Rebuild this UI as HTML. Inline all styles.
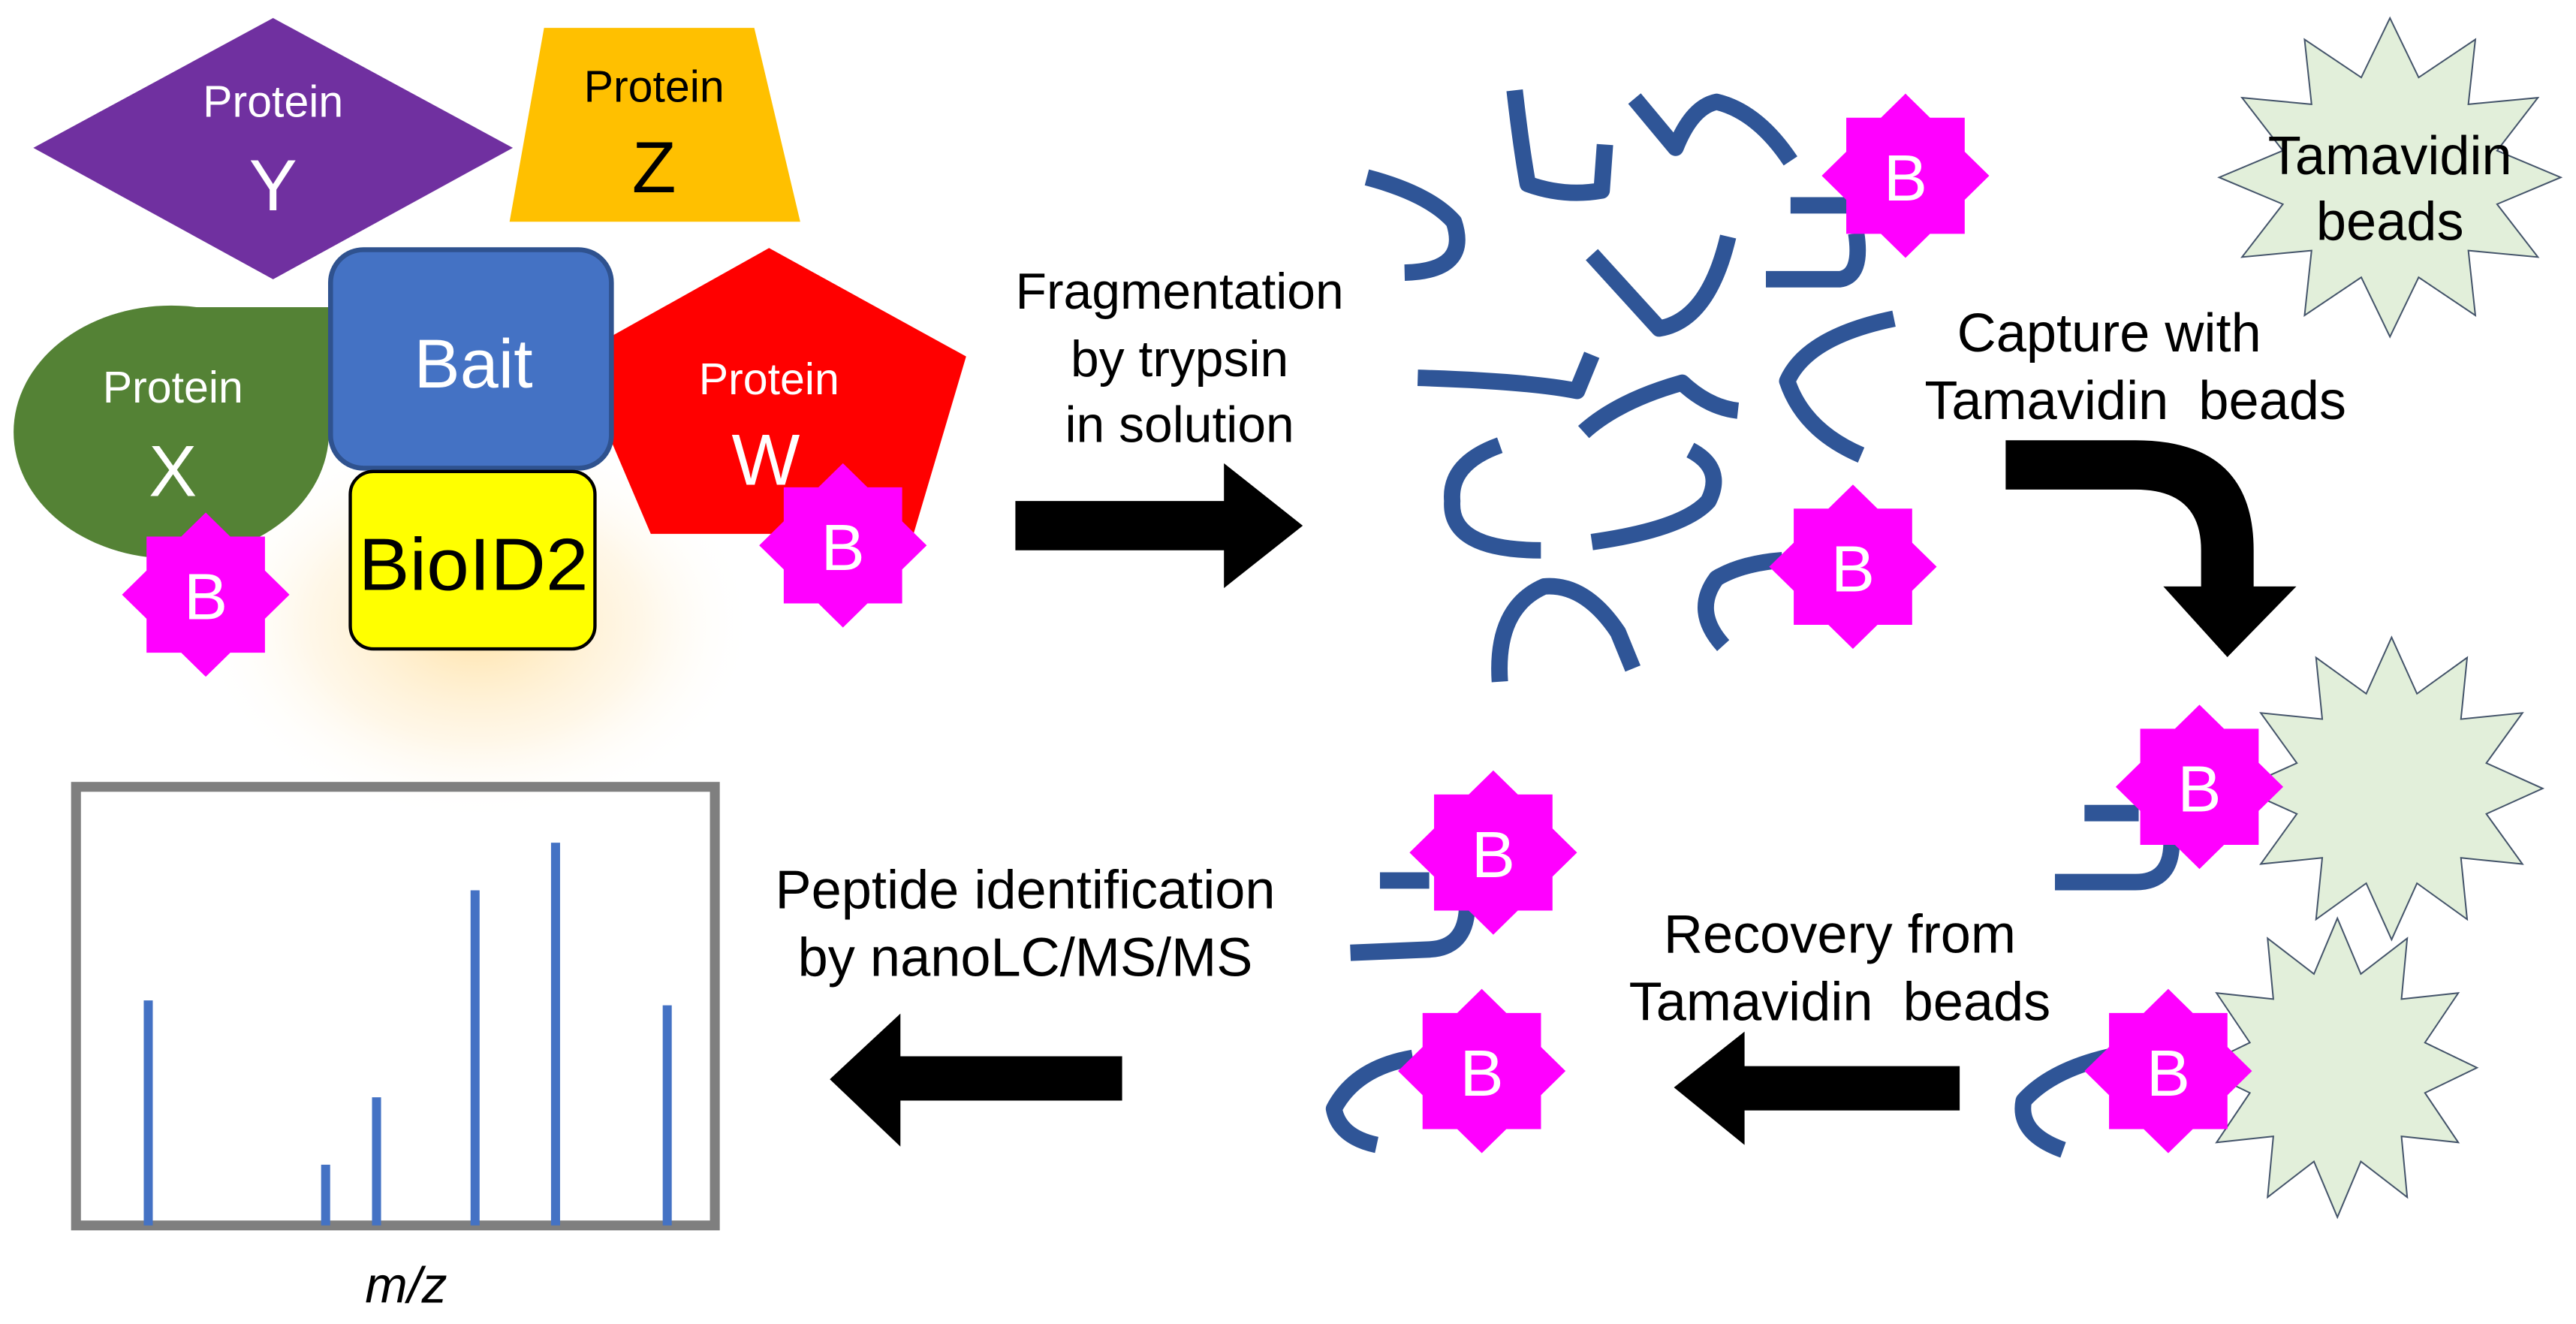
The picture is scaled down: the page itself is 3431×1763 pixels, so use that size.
<!DOCTYPE html>
<html><head><meta charset="utf-8"><style>
html,body{margin:0;padding:0;background:#fff;}
svg{display:block;}
text{font-family:"Liberation Sans",Arial,sans-serif;}
</style></head><body>
<svg width="3431" height="1763" viewBox="0 0 1568 806" xmlns="http://www.w3.org/2000/svg">
<defs>
<radialGradient id="glow" cx="0.5" cy="0.5" r="0.5">
<stop offset="0" stop-color="#FFD98A" stop-opacity="0.75"/>
<stop offset="0.6" stop-color="#FFE9BF" stop-opacity="0.35"/>
<stop offset="1" stop-color="#FFFFFF" stop-opacity="0"/>
</radialGradient>
<polygon id="b8" points="0,-1 0.293,-0.707 0.707,-0.707 0.707,-0.293 1,0 0.707,0.293 0.707,0.707 0.293,0.707 0,1 -0.293,0.707 -0.707,0.707 -0.707,0.293 -1,0 -0.707,-0.293 -0.707,-0.707 -0.293,-0.707" fill="#FF00FF"/>
<polygon id="s12" points="0,-1 0.168,-0.627 0.5,-0.866 0.459,-0.459 0.866,-0.5 0.627,-0.168 1,0 0.627,0.168 0.866,0.5 0.459,0.459 0.5,0.866 0.168,0.627 0,1 -0.168,0.627 -0.5,0.866 -0.459,0.459 -0.866,0.5 -0.627,0.168 -1,0 -0.627,-0.168 -0.866,-0.5 -0.459,-0.459 -0.5,-0.866 -0.168,-0.627" fill="#E2EFDA" stroke="#44546A" stroke-width="2" vector-effect="non-scaling-stroke"/>
</defs>

<ellipse cx="290" cy="380" rx="170" ry="120" fill="url(#glow)"/>

<!-- Protein Y -->
<polygon points="20,90 166,11 312,90 166,170" fill="#7030A0"/>
<text x="166" y="71" font-size="27" fill="#fff" text-anchor="middle">Protein</text>
<text x="166" y="128" font-size="44" fill="#fff" text-anchor="middle">Y</text>

<!-- Protein Z -->
<polygon points="331,17 459,17 487,135 310,135" fill="#FFC000"/>
<text x="398" y="62" font-size="27" fill="#000" text-anchor="middle">Protein</text>
<text x="398" y="117" font-size="44" fill="#000" text-anchor="middle">Z</text>

<!-- Protein X -->
<ellipse cx="104" cy="263" rx="96" ry="77" fill="#548235"/>
<rect x="104" y="187" width="110" height="80" fill="#548235"/>
<text x="105" y="245" font-size="27" fill="#fff" text-anchor="middle">Protein</text>
<text x="105" y="302" font-size="44" fill="#fff" text-anchor="middle">X</text>

<!-- Protein W -->
<polygon points="468,151 588,217 556,325 396,325 350,217" fill="#FF0000"/>
<text x="468" y="240" font-size="27" fill="#fff" text-anchor="middle">Protein</text>
<text x="466" y="295" font-size="44" fill="#fff" text-anchor="middle">W</text>

<!-- Bait -->
<rect x="201" y="152" width="171" height="133" rx="20" fill="#4472C4" stroke="#2F528F" stroke-width="3"/>
<text x="288" y="236" font-size="42" fill="#fff" text-anchor="middle">Bait</text>

<!-- BioID2 -->
<rect x="213" y="287" width="149" height="108" rx="14" fill="#FFFF00" stroke="#000" stroke-width="2"/>
<text x="288" y="359" font-size="45" fill="#000" text-anchor="middle" textLength="140" lengthAdjust="spacingAndGlyphs">BioID2</text>

<!-- B stars protein -->
<g transform="translate(125,362) scale(51,50)"><use href="#b8"/></g>
<text x="125" y="377" font-size="40" fill="#fff" text-anchor="middle">B</text>
<g transform="translate(513,332) scale(51,50)"><use href="#b8"/></g>
<text x="513" y="347" font-size="40" fill="#fff" text-anchor="middle">B</text>

<!-- Fragmentation -->
<text font-size="31" fill="#000" text-anchor="middle"><tspan x="718" y="188">Fragmentation</tspan><tspan x="718" y="229">by trypsin</tspan><tspan x="718" y="269">in solution</tspan></text>
<polygon points="618,305 745,305 745,282 793,320 745,358 745,335 618,335" fill="#000"/>

<!-- peptides cluster -->
<g fill="none" stroke="#2F5597" stroke-width="10" stroke-linejoin="round">
<path d="M922,55 Q926,90 930,112 Q952,120 975,116 L977,88"/>
<path d="M995,60 Q1010,78 1020,90 Q1030,65 1045,62 Q1070,68 1090,98"/>
<path d="M832,108 Q870,118 885,135 Q895,165 855,166"/>
<path d="M1090,125 L1135,125"/>
<path d="M1130,142 Q1134,168 1120,170 L1075,170"/>
<path d="M969,155 Q990,178 1010,200 Q1040,195 1052,144"/>
<path d="M1153,194 Q1100,205 1088,232 Q1098,262 1133,277"/>
<path d="M863,230 Q930,232 960,238 L969,216"/>
<path d="M964,263 Q985,244 1024,233 Q1040,248 1058,250"/>
<path d="M913,271 Q882,282 884,305 Q882,335 938,335"/>
<path d="M969,330 Q1025,322 1040,305 Q1050,285 1029,274"/>
<path d="M913,415 Q910,370 940,357 Q965,355 985,385 L994,407"/>
<path d="M1049,393 Q1030,372 1045,352 Q1060,343 1085,341"/>
</g>
<g transform="translate(1160,107) scale(51,50)"><use href="#b8"/></g>
<text x="1160" y="122" font-size="40" fill="#fff" text-anchor="middle">B</text>
<g transform="translate(1128,345) scale(51,50)"><use href="#b8"/></g>
<text x="1128" y="360" font-size="40" fill="#fff" text-anchor="middle">B</text>

<!-- Tamavidin beads star -->
<g transform="translate(1455,108) scale(104,97)"><use href="#s12"/></g>
<text font-size="33" fill="#000" text-anchor="middle"><tspan x="1455" y="106">Tamavidin</tspan><tspan x="1455" y="146">beads</tspan></text>

<!-- Capture -->
<text font-size="33" fill="#000" text-anchor="middle"><tspan x="1284" y="214">Capture with</tspan><tspan x="1300" y="255" xml:space="preserve">Tamavidin  beads</tspan></text>
<path d="M1221,268 L1300,268 Q1372,268 1372,335 L1372,357 L1398,357 L1356,400 L1317,357 L1340,357 L1340,335 Q1340,298 1300,298 L1221,298 Z" fill="#000"/>

<!-- captured beads -->
<g transform="translate(1456,480) scale(92,92)"><use href="#s12"/></g>
<g transform="translate(1423,650) scale(85,91)"><use href="#s12"/></g>
<g fill="none" stroke="#2F5597" stroke-width="10" stroke-linejoin="round">
<path d="M1269,495 L1302,495"/>
<path d="M1322,513 Q1322,537 1300,537 L1251,537"/>
<path d="M1290,642 Q1250,650 1232,670 Q1228,690 1256,700"/>
<path d="M840,536 L870,536"/>
<path d="M893,553 Q892,577 870,578 L822,580"/>
<path d="M860,644 Q825,650 812,675 Q815,692 838,697"/>
</g>
<g transform="translate(1339,479) scale(51,50)"><use href="#b8"/></g>
<text x="1339" y="494" font-size="40" fill="#fff" text-anchor="middle">B</text>
<g transform="translate(1320,652) scale(51,50)"><use href="#b8"/></g>
<text x="1320" y="667" font-size="40" fill="#fff" text-anchor="middle">B</text>

<!-- Recovery -->
<text font-size="33" fill="#000" text-anchor="middle"><tspan x="1120" y="580">Recovery from</tspan><tspan x="1120" y="621" xml:space="preserve">Tamavidin  beads</tspan></text>
<polygon points="1193,649 1062,649 1062,628 1019,662 1062,697 1062,676 1193,676" fill="#000"/>

<!-- free B -->
<g transform="translate(909,519) scale(51,50)"><use href="#b8"/></g>
<text x="909" y="534" font-size="40" fill="#fff" text-anchor="middle">B</text>
<g transform="translate(902,652) scale(51,50)"><use href="#b8"/></g>
<text x="902" y="667" font-size="40" fill="#fff" text-anchor="middle">B</text>

<!-- Peptide identification -->
<text font-size="33" fill="#000" text-anchor="middle"><tspan x="624" y="553">Peptide identification</tspan><tspan x="624" y="594">by nanoLC/MS/MS</tspan></text>
<polygon points="683,643 548,643 548,617 505,657 548,698 548,670 683,670" fill="#000"/>

<!-- spectrum -->
<rect x="46" y="479" width="389" height="267" fill="none" stroke="#7F7F7F" stroke-width="6"/>
<g stroke="#4472C4" stroke-width="5.5">
<line x1="90" y1="609" x2="90" y2="746"/>
<line x1="198" y1="709" x2="198" y2="746"/>
<line x1="229" y1="668" x2="229" y2="746"/>
<line x1="289" y1="542" x2="289" y2="746"/>
<line x1="338" y1="513" x2="338" y2="746"/>
<line x1="406" y1="612" x2="406" y2="746"/>
</g>
<text x="247" y="793" font-size="31" font-style="italic" fill="#000" text-anchor="middle">m/z</text>
</svg>
</body></html>
